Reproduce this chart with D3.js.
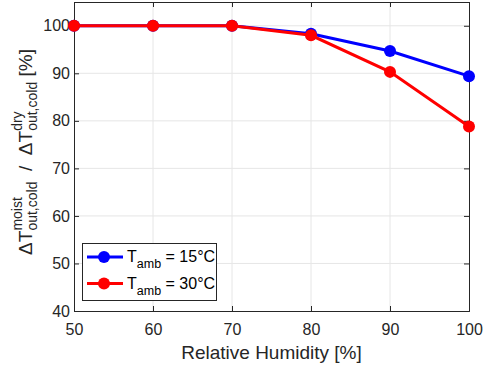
<!DOCTYPE html>
<html>
<head>
<meta charset="utf-8">
<script src="https://cdn.jsdelivr.net/npm/d3@7"></script>
<style>
  body { margin: 0; background: #fff; }
  text { font-family: "Liberation Sans", Arial, sans-serif; }
</style>
</head>
<body>
<script>
// data
const humidity = [50, 60, 70, 80, 90, 100];
const ratio15 = [100, 100, 100, 98.3, 94.7, 89.4];
const ratio30 = [100, 100, 100, 98.0, 90.3, 78.8];
const xTicks = [50, 60, 70, 80, 90, 100];
const yTicks = [40, 50, 60, 70, 80, 90, 100];
const seriesNames = ["15°C", "30°C"];
const seriesColors = ["#0000ff", "#ff0000"];

const W = 484, H = 365;
const pLeft = 74, pRight = 469, pTop = 2, pBottom = 311;

const svg = d3.select("body").append("svg")
  .attr("width", W).attr("height", H);

let x = d3.scaleLinear().domain([50, 100]).range([pLeft, pRight]);
let y = d3.scaleLinear().domain([40, 105]).range([pBottom, pTop]);

// grid
svg.append("g").selectAll("line").data(xTicks.slice(1, -1)).enter().append("line")
  .attr("x1", d => x(d)).attr("x2", d => x(d))
  .attr("y1", pTop).attr("y2", pBottom)
  .attr("stroke", "#e6e6e6").attr("stroke-width", 1);
svg.append("g").selectAll("line").data(yTicks.slice(1)).enter().append("line")
  .attr("x1", pLeft).attr("x2", pRight)
  .attr("y1", d => y(d)).attr("y2", d => y(d))
  .attr("stroke", "#e6e6e6").attr("stroke-width", 1);

// axes (ticks inside, box)
const tickCol = "#262626";
let xAxis = svg.append("g").attr("transform", "translate(0," + pBottom + ")")
  .call(d3.axisBottom(x).tickValues(xTicks).tickSize(-5).tickPadding(9));
let xTop = svg.append("g").attr("transform", "translate(0," + pTop + ")")
  .call(d3.axisTop(x).tickValues(xTicks).tickSize(-5).tickFormat(""));
let yAxis = svg.append("g").attr("transform", "translate(" + pLeft + ",0)")
  .call(d3.axisLeft(y).tickValues(yTicks).tickSize(-5).tickPadding(4));
let yRight = svg.append("g").attr("transform", "translate(" + pRight + ",0)")
  .call(d3.axisRight(y).tickValues(yTicks).tickSize(-5).tickFormat(""));

[xAxis, xTop, yAxis, yRight].forEach(g => {
  g.select(".domain").attr("stroke", tickCol).attr("stroke-width", 1);
  g.selectAll(".tick line").attr("stroke", tickCol);
  g.selectAll(".tick text").attr("fill", tickCol).style("font-size", "16px")
    .style("font-family", "'Liberation Sans', Arial, sans-serif");
});
xAxis.selectAll(".tick text").attr("dy", "0.95em");

// series
const series = [ratio15, ratio30];
const line = d3.line().x((d, i) => x(humidity[i])).y(d => y(d));
series.forEach((vals, k) => {
  svg.append("path").datum(vals)
    .attr("d", line)
    .attr("fill", "none")
    .attr("stroke", seriesColors[k])
    .attr("stroke-width", 3);
  svg.append("g").selectAll("circle").data(vals).enter().append("circle")
    .attr("cx", (d, i) => x(humidity[i])).attr("cy", d => y(d))
    .attr("r", 6).attr("fill", seriesColors[k]);
});

// legend
const lg = svg.append("g");
lg.append("rect").attr("x", 82.5).attr("y", 243.5).attr("width", 134).attr("height", 57)
  .attr("fill", "#fff").attr("stroke", "#262626").attr("stroke-width", 1);
seriesNames.forEach((name, k) => {
  const yy = 257 + k * 26.5;
  lg.append("line").attr("x1", 87).attr("x2", 123).attr("y1", yy).attr("y2", yy)
    .attr("stroke", seriesColors[k]).attr("stroke-width", 3);
  lg.append("circle").attr("cx", 104).attr("cy", yy).attr("r", 6).attr("fill", seriesColors[k]);
  const t = lg.append("text").attr("x", 127).attr("y", yy + 5)
    .attr("fill", "#000").style("font-size", "16px");
  t.append("tspan").text("T");
  t.append("tspan").attr("dy", 6).style("font-size", "12.5px").text("amb");
  t.append("tspan").attr("dy", -6).text(" = " + name);
});

// x label
svg.append("text").attr("x", (pLeft + pRight) / 2).attr("y", 359)
  .attr("text-anchor", "middle").attr("fill", tickCol).style("font-size", "19px")
  .text("Relative Humidity [%]");

// y label built from pieces in a rotated group
const yl = svg.append("g").attr("transform", "translate(32," + 152 + ") rotate(-90)");
const big = 19, small = 14;
let cx = 0;
function addBlock(base, sup, sub) {
  const p1 = yl.append("text").attr("x", cx).attr("y", 0).attr("fill", tickCol)
    .style("font-size", big + "px").text(base);
  cx += p1.node().getComputedTextLength();
  const p2 = yl.append("text").attr("x", cx).attr("y", -10).attr("fill", tickCol)
    .style("font-size", small + "px").text(sup);
  const p3 = yl.append("text").attr("x", cx).attr("y", 5).attr("fill", tickCol)
    .style("font-size", small + "px").text(sub);
  cx += Math.max(p2.node().getComputedTextLength(), p3.node().getComputedTextLength());
}
addBlock("ΔT", "moist", "out,cold");
const sl = yl.append("text").attr("x", cx).attr("y", 0).attr("fill", tickCol)
  .style("font-size", big + "px").style("white-space", "pre").text("  /  ");
cx += sl.node().getComputedTextLength();
addBlock("ΔT", "dry", "out,cold");
const pc = yl.append("text").attr("x", cx).attr("y", 0).attr("fill", tickCol)
  .style("font-size", big + "px").style("white-space", "pre").text(" [%]");
cx += pc.node().getComputedTextLength();
// center the whole label
yl.selectAll("text").attr("x", function() { return +d3.select(this).attr("x") - cx / 2; });
</script>
</body>
</html>
